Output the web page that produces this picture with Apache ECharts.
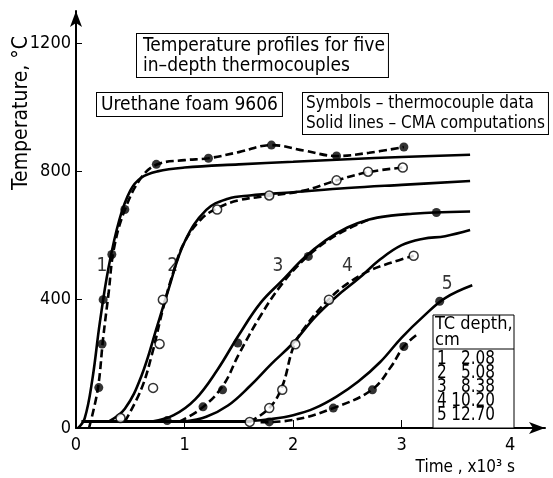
<!DOCTYPE html>
<html>
<head>
<meta charset="utf-8">
<script src="https://cdn.jsdelivr.net/npm/echarts@6/dist/echarts.min.js"></script>
<style>
  html, body { margin: 0; padding: 0; background: #fff; }
  #chart { width: 553px; height: 478px; }
</style>
</head>
<body>
<div id="chart"></div>
<script>
// time in 10^3 s, temperature in degC
var xTicks = [0, 1, 2, 3, 4];
var yTicks = [0, 400, 800, 1200];

// solid lines - CMA computations
var cma1 = [[0.02,0],[0.08,30],[0.15,150],[0.22,330],[0.3,500],[0.4,650],[0.5,740],[0.6,780],[0.75,800],[1.0,812],[1.5,822],[2.0,830],[2.5,838],[3.0,845],[3.63,852]];
var cma2 = [[0.3,20],[0.45,60],[0.6,160],[0.75,320],[0.85,430],[1.0,580],[1.2,680],[1.4,715],[1.6,725],[2.0,735],[2.5,748],[3.0,758],[3.63,770]];
var cma3 = [[0.7,20],[0.9,40],[1.1,90],[1.3,180],[1.5,290],[1.7,390],[1.9,460],[2.1,530],[2.3,585],[2.5,625],[2.7,650],[2.9,662],[3.1,668],[3.3,672],[3.63,675]];
var cma4 = [[1.0,20],[1.2,35],[1.4,70],[1.6,130],[1.8,200],[2.0,265],[2.2,345],[2.4,410],[2.6,465],[2.8,525],[3.0,570],[3.2,590],[3.4,598],[3.63,617]];
var cma5 = [[1.3,20],[1.6,22],[1.8,28],[2.0,40],[2.2,62],[2.4,98],[2.6,145],[2.8,205],[3.0,282],[3.2,348],[3.4,405],[3.65,445]];
// baseline the computed curves sit on before rising
var cmaBase = [[0.05,20],[1.6,20]];

// dashed lines drawn through the thermocouple data
var fit1 = [[0.12,0],[0.2,120],[0.25,280],[0.3,420],[0.35,560],[0.45,680],[0.6,780],[0.75,822],[1.0,835],[1.22,841],[1.5,860],[1.8,882],[2.1,865],[2.4,848],[2.7,858],[3.02,876]];
var fit2 = [[0.45,20],[0.6,120],[0.7,230],[0.8,370],[0.9,490],[1.0,580],[1.15,650],[1.3,685],[1.5,710],[1.8,725],[2.1,740],[2.4,772],[2.7,798],[3.01,812]];
var fit3 = [[0.95,20],[1.15,60],[1.35,130],[1.5,230],[1.7,350],[1.9,450],[2.1,525],[2.3,580],[2.5,620],[2.7,650]];
var fit4 = [[1.6,19],[1.78,62],[1.9,130],[2.0,250],[2.1,310],[2.325,400],[2.5,450],[2.7,490],[2.9,515],[3.11,537]];
var fit5 = [[1.7,18],[2.0,25],[2.37,62],[2.725,119],[2.9,190],[3.02,254],[3.16,296]];

// symbols - thermocouple data
var tc1 = [[0.21,126],[0.24,262],[0.25,400],[0.33,541],[0.45,681],[0.74,822],[1.22,841],[1.8,882],[2.4,848],[3.02,876]];
var tc2 = [[0.41,31],[0.71,125],[0.77,262],[0.8,400],[1.3,681],[1.78,725],[2.4,772],[2.69,799],[3.01,812]];
var tc3 = [[0.84,23],[1.17,66],[1.35,119],[1.49,265],[2.14,535],[3.32,672]];
var tc4 = [[1.6,19],[1.78,62],[1.9,119],[2.02,261],[2.33,400],[3.11,537]];
var tc5 = [[1.78,19],[2.37,62],[2.73,119],[3.02,254],[3.35,395]];

var curveNames = ['1', '2', '3', '4', '5'];
var curveLabelPos = [[0.24,505],[0.89,505],[1.86,505],[2.5,505],[3.42,450]];

var tcIds = ['1', '2', '3', '4', '5'];
var tcDepths = ['2.08', '5.08', '8.38', '10.20', '12.70'];

var FONT = '"Liberation Sans Narrow", "DejaVu Sans Condensed", "Liberation Sans", sans-serif';

var chart = echarts.init(document.getElementById('chart'));

var series = [];
var cmas = [cma1, cma2, cma3, cma4, cma5];
var fits = [fit1, fit2, fit3, fit4, fit5];
var tcs = [tc1, tc2, tc3, tc4, tc5];

series.push({
  type: 'line', data: cmaBase, symbol: 'none',
  lineStyle: { color: '#000', width: 3 }, z: 2
});
for (var i = 0; i < 5; i++) {
  series.push({
    name: 'CMA ' + curveNames[i], type: 'line', data: cmas[i], smooth: 0.4,
    symbol: 'none', lineStyle: { color: '#000', width: 2.6 }, z: 2
  });
  series.push({
    name: 'fit ' + curveNames[i], type: 'line', data: fits[i], smooth: 0.4,
    symbol: 'none', lineStyle: { color: '#000', width: 2.6, type: [8, 4] }, z: 3
  });
  var open = (i === 1 || i === 3);
  series.push({
    name: 'TC ' + curveNames[i], type: 'scatter', data: tcs[i], symbolSize: 9,
    itemStyle: open ? { color: '#fff', borderColor: '#000', borderWidth: 1.5 } : { color: '#000' },
    z: 5
  });
}
series.push({
  type: 'scatter', symbolSize: 0, silent: true, z: 6,
  data: curveLabelPos.map(function (p, k) { return { value: p, name: curveNames[k] }; }),
  label: {
    show: true, formatter: '{b}', position: 'inside',
    color: '#000', fontSize: 19, fontFamily: FONT
  }
});

// TC depth table
var tableX = 433, tableY = 315, tableW = 81, tableH = 113;
var graphics = [
  {
    type: 'text', left: 136, top: 33, z: 10,
    style: {
      text: 'Temperature profiles for five\nin\u2013depth thermocouples',
      font: '19px ' + FONT, fill: '#000', lineHeight: 20,
      borderColor: '#000', borderWidth: 1, padding: [2, 3, 1, 6], backgroundColor: '#fff'
    }
  },
  {
    type: 'text', left: 96, top: 92, z: 10,
    style: {
      text: 'Urethane foam 9606',
      font: '19px ' + FONT, fill: '#000', lineHeight: 22,
      borderColor: '#000', borderWidth: 1, padding: [1, 4, 0, 4], backgroundColor: '#fff'
    }
  },
  {
    type: 'text', left: 302, top: 92, z: 10,
    style: {
      text: 'Symbols \u2013 thermocouple data\nSolid lines \u2013 CMA computations',
      font: '17px ' + FONT, fill: '#000', lineHeight: 20,
      borderColor: '#000', borderWidth: 1, padding: [1, 3, 0, 3], backgroundColor: '#fff'
    }
  },
  {
    type: 'rect', z: 10,
    shape: { x: tableX, y: tableY, width: tableW, height: tableH },
    style: { fill: '#fff', stroke: '#000', lineWidth: 1 }
  },
  {
    type: 'line', z: 11,
    shape: { x1: tableX, y1: tableY + 34, x2: tableX + tableW, y2: tableY + 34 },
    style: { stroke: '#000', lineWidth: 1 }
  },
  {
    type: 'text', z: 11, x: tableX + 2, y: tableY + 1,
    style: { text: 'TC depth,\ncm', font: '18px ' + FONT, fill: '#000', lineHeight: 16 }
  },
  {
    type: 'text', z: 11, x: 22, y: 113, rotation: Math.PI / 2,
    style: { text: 'Temperature, \u00b0C', font: '21px ' + FONT, fill: '#000', align: 'center', verticalAlign: 'middle' }
  },
  {
    type: 'text', z: 11, x: 515, y: 468,
    style: { text: 'Time , x10\u00b3 s', font: '17px ' + FONT, fill: '#000', align: 'right', verticalAlign: 'middle' }
  }
];
for (var r = 0; r < tcIds.length; r++) {
  graphics.push({
    type: 'text', z: 11, x: tableX + 4, y: tableY + 44 + r * 14, scaleY: 1.15,
    style: { text: tcIds[r], font: '17px ' + FONT, fill: '#000', verticalAlign: 'middle' }
  });
  graphics.push({
    type: 'text', z: 11, x: tableX + 62, y: tableY + 44 + r * 14, scaleY: 1.15,
    style: { text: tcDepths[r], font: '17px ' + FONT, fill: '#000', align: 'right', verticalAlign: 'middle' }
  });
}

var option = {
  animation: false,
  backgroundColor: '#fff',
  grid: { left: 76, right: 8, top: 11, bottom: 50, containLabel: false },
  xAxis: {
    type: 'value', min: 0, max: 4.32,
    axisLine: { lineStyle: { color: '#000', width: 2 }, symbol: ['none', 'arrow'], symbolSize: [9, 16] },
    axisTick: { inside: true, length: 8, lineStyle: { color: '#000', width: 1 }, customValues: xTicks },
    axisLabel: { color: '#000', fontSize: 18, fontFamily: FONT, margin: 8, customValues: xTicks },
    splitLine: { show: false }
  },
  yAxis: {
    type: 'value', min: 0, max: 1300,
    axisLine: { show: true, lineStyle: { color: '#000', width: 2 }, symbol: ['none', 'arrow'], symbolSize: [9, 16] },
    axisTick: { show: true, inside: true, length: 6, lineStyle: { color: '#000', width: 1 }, customValues: yTicks },
    axisLabel: {
      color: '#000', fontSize: 18, fontFamily: FONT, margin: 5, customValues: yTicks,
      formatter: function (v) { return String(v); }
    },
    splitLine: { show: false }
  },
  series: series,
  graphic: graphics
};
chart.setOption(option);
</script>
</body>
</html>
